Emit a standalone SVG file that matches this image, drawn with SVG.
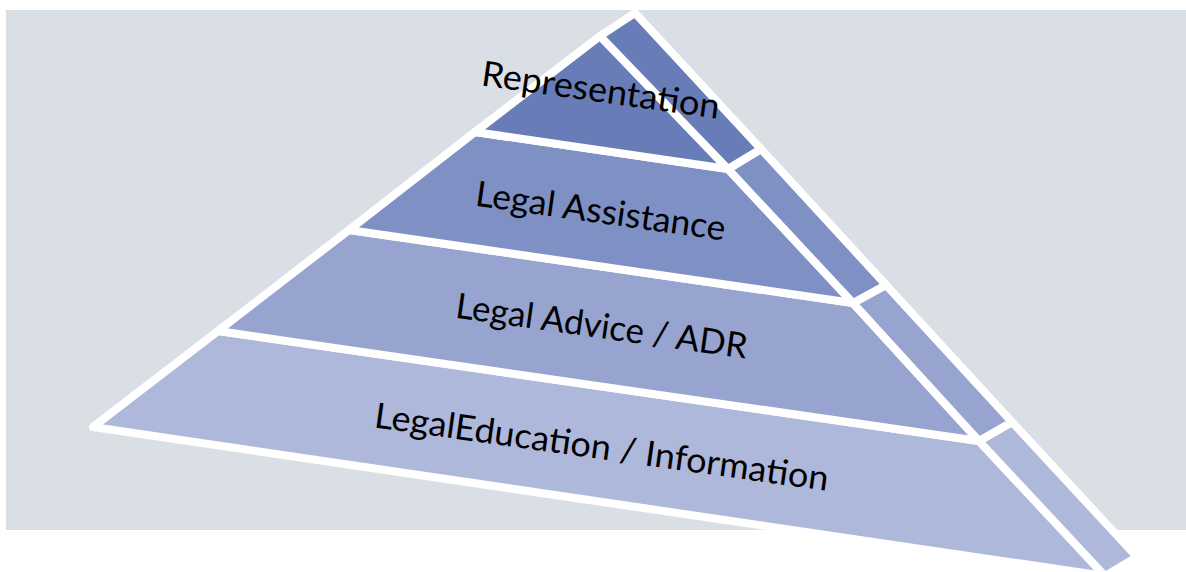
<svg xmlns="http://www.w3.org/2000/svg" width="1186" height="572" viewBox="0 0 1186 572">
<style>
.seg{stroke:#ffffff;stroke-width:8;stroke-linejoin:round}
.c1{fill:#687db8}
.c2{fill:#7f90c4}
.c3{fill:#96a4cf}
.c4{fill:#aeb8db}
.lbl{font-family:Lato,"Open Sans","Liberation Sans",sans-serif;font-size:35px;fill:#000000;text-anchor:middle}
</style>
<rect x="6" y="10" width="1180" height="520" fill="#dadee5"/>
<g id="layer-education">
<polygon class="seg c4" points="218,331 979,441 1105,576 93,427"/>
<polygon class="seg c4" points="979,441 1012,422 1137,557 1105,576"/>
<text class="lbl" x="600" y="459" transform="rotate(8 600 459)" textLength="458" lengthAdjust="spacingAndGlyphs">LegalEducation / Information</text>
</g>
<g id="layer-advice">
<polygon class="seg c3" points="349,230 853,303 979,441 218,331"/>
<polygon class="seg c3" points="853,303 886,285 1012,422 979,441"/>
<text class="lbl" x="600" y="338" transform="rotate(8 600 338)" textLength="294" lengthAdjust="spacingAndGlyphs">Legal Advice / ADR</text>
</g>
<g id="layer-assistance">
<polygon class="seg c2" points="475,132 728,169 853,303 349,230"/>
<polygon class="seg c2" points="728,169 761,149 886,285 853,303"/>
<text class="lbl" x="599" y="223" transform="rotate(8 599 223)" textLength="252" lengthAdjust="spacingAndGlyphs">Legal Assistance</text>
</g>
<g id="layer-representation">
<polygon class="seg c1" points="600,36 728,169 475,132"/>
<polygon class="seg c1" points="600,36 635,13 761,149 728,169"/>
<text class="lbl" x="599" y="102" transform="rotate(8 599 102)" textLength="240" lengthAdjust="spacingAndGlyphs">Representation</text>
</g>
<g id="connectors"></g>
</svg>
